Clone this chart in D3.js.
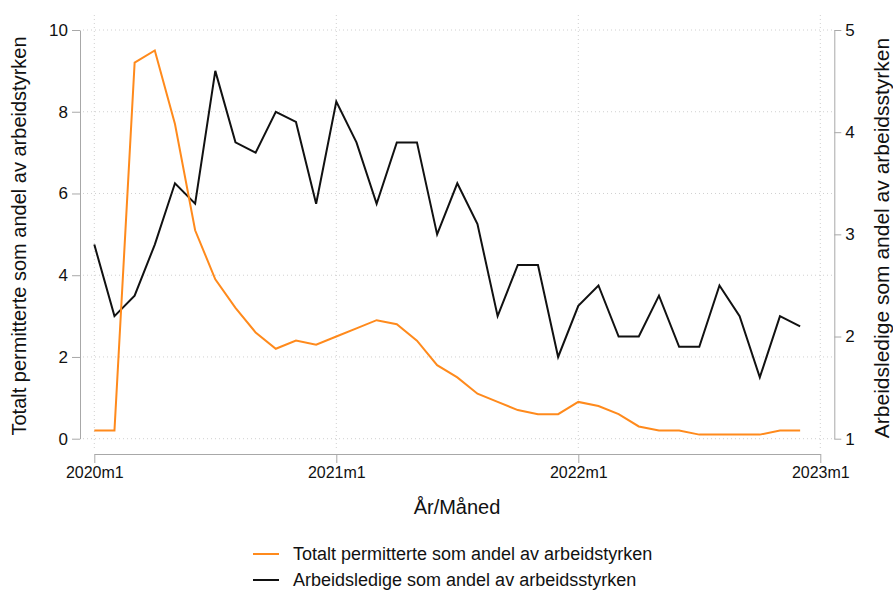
<!DOCTYPE html>
<html>
<head>
<meta charset="utf-8">
<script src="https://cdn.jsdelivr.net/npm/d3@7"></script>
<style>
  body { margin: 0; background: #fff; }
  text { font-family: "Liberation Sans", Arial, sans-serif; fill: #111; }
  .grid line { stroke: #d0d0d0; stroke-dasharray: 1,3; }
  .axis path, .axis line { stroke: #a8a8a8; }
</style>
</head>
<body>
<svg id="svg1" width="893" height="593"></svg>
<script>
var svg = d3.select('#svg1');

// months 2020m1 .. 2022m12 as index from 2020m1
var months = d3.range(0, 36);
var permittert = [0.2, 0.2, 9.2, 9.5, 7.7, 5.1, 3.9, 3.2, 2.6, 2.2, 2.4, 2.3,
    2.5, 2.7, 2.9, 2.8, 2.4, 1.8, 1.5, 1.1, 0.9, 0.7, 0.6, 0.6,
    0.9, 0.8, 0.6, 0.3, 0.2, 0.2, 0.1, 0.1, 0.1, 0.1, 0.2, 0.2];
var ledige = [2.9, 2.2, 2.4, 2.9, 3.5, 3.3, 4.6, 3.9, 3.8, 4.2, 4.1, 3.3,
    4.3, 3.9, 3.3, 3.9, 3.9, 3.0, 3.5, 3.1, 2.2, 2.7, 2.7, 1.8,
    2.3, 2.5, 2.0, 2.0, 2.4, 1.9, 1.9, 2.5, 2.2, 1.6, 2.2, 2.1];
var xTicks = [0, 12, 24, 36];
var xTickLabels = ['2020m1', '2021m1', '2022m1', '2023m1'];
var leftTicks = [0, 2, 4, 6, 8, 10];
var rightTicks = [1, 2, 3, 4, 5];
var seriesNames = ['Totalt permitterte som andel av arbeidstyrken', 'Arbeidsledige som andel av arbeidsstyrken'];
var seriesColors = ['#ff8a1c', '#111111'];

var xScale = d3.scaleLinear().domain([0, 36]).range([94.3, 820.3]);
var yLeft = d3.scaleLinear().domain([0, 10]).range([438.7, 30]);
var yRight = d3.scaleLinear().domain([1, 5]).range([438.7, 30]);

// grid
var grid = svg.append('g').attr('class', 'grid');
grid.selectAll('.h')
    .data(leftTicks)
    .enter()
    .append('line')
    .attr('x1', 83).attr('x2', 832)
    .attr('y1', function(d) { return yLeft(d); })
    .attr('y2', function(d) { return yLeft(d); });
grid.selectAll('.v')
    .data(xTicks)
    .enter()
    .append('line')
    .attr('y1', 15).attr('y2', 450)
    .attr('x1', function(d) { return xScale(d); })
    .attr('x2', function(d) { return xScale(d); });

// axes
var xAxis = d3.axisBottom(xScale).tickValues(xTicks).tickSize(9).tickSizeOuter(0)
    .tickFormat(function(d, i) { return xTickLabels[i]; });
var gx = svg.append('g')
    .attr('class', 'axis')
    .attr('transform', 'translate(0,454)')
    .call(xAxis);
gx.selectAll('text').attr('dy', '1.15em').style('font-size', '16px').attr('y', 6);

var gl = svg.append('g')
    .attr('class', 'axis')
    .attr('transform', 'translate(80,0)')
    .call(d3.axisLeft(yLeft).tickValues(leftTicks).tickSize(8).tickSizeOuter(0));
gl.selectAll('text').style('font-size', '17px').attr('x', -12);

var gr = svg.append('g')
    .attr('class', 'axis')
    .attr('transform', 'translate(834.3,0)')
    .call(d3.axisRight(yRight).tickValues(rightTicks).tickFormat(d3.format('d'))
        .tickSize(7).tickSizeOuter(0));
gr.selectAll('text').style('font-size', '17px').attr('x', 11);
svg.selectAll('.axis .domain').attr('stroke', '#a8a8a8');

// titles
svg.append('text')
    .attr('transform', 'translate(26,236) rotate(-90)')
    .attr('text-anchor', 'middle')
    .style('font-size', '20px')
    .text(seriesNames[0]);
svg.append('text')
    .attr('transform', 'translate(889,238) rotate(-90)')
    .attr('text-anchor', 'middle')
    .style('font-size', '21px')
    .text(seriesNames[1]);
svg.append('text')
    .attr('x', 457).attr('y', 514)
    .attr('text-anchor', 'middle')
    .style('font-size', '20px')
    .text('År/Måned');

// lines
var lineLeft = d3.line()
    .x(function(d, i) { return xScale(months[i]); })
    .y(function(d) { return yLeft(d); });
var lineRight = d3.line()
    .x(function(d, i) { return xScale(months[i]); })
    .y(function(d) { return yRight(d); });

svg.append('path')
    .datum(ledige)
    .attr('d', lineRight)
    .attr('fill', 'none')
    .attr('stroke', seriesColors[1])
    .attr('stroke-width', 2);

svg.append('path')
    .datum(permittert)
    .attr('d', lineLeft)
    .attr('fill', 'none')
    .attr('stroke', seriesColors[0])
    .attr('stroke-width', 2);

// legend
var legend = svg.append('g').selectAll('.legend')
    .data(seriesNames)
    .enter()
    .append('g')
    .attr('transform', function(d, i) { return 'translate(253,' + (554 + i * 26) + ')'; });
legend.append('line')
    .attr('x1', 0).attr('x2', 26)
    .attr('stroke', function(d, i) { return seriesColors[i]; })
    .attr('stroke-width', 2);
legend.append('text')
    .attr('x', 40).attr('dy', '0.35em')
    .style('font-size', '18px')
    .text(function(d) { return d; });
</script>
</body>
</html>
